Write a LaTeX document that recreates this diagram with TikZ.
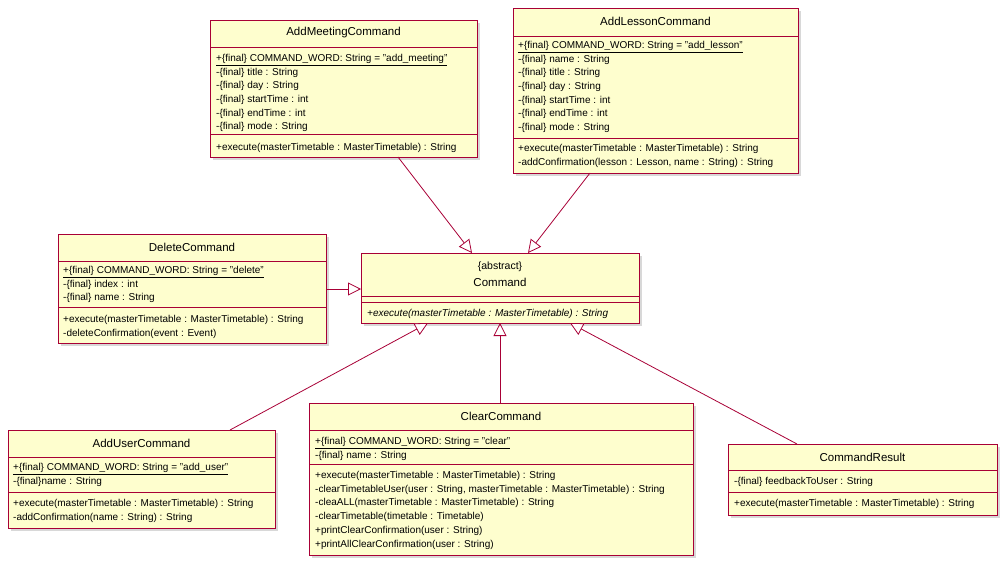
\documentclass[tikz,border=0pt]{standalone}
\usepackage{fontspec}
\setmainfont{Liberation Sans}
\usetikzlibrary{shadows,arrows.meta}
\definecolor{fillc}{HTML}{FEFECE}
\definecolor{linec}{HTML}{A80036}
\tikzset{
 box/.style={draw=linec,fill=fillc,line width=0.9pt,drop shadow={shadow xshift=3pt,shadow yshift=-3pt,fill=black!30,draw=none}},
 sep/.style={draw=linec,line width=0.9pt},
 title/.style={font=\fontsize{11.5}{13}\selectfont,inner sep=0},
 mem/.style={font=\fontsize{10}{11}\selectfont,anchor=base west,inner sep=0},
 gen/.style={draw=linec,line width=0.8pt,-{Triangle[open,length=13pt,width=13pt,fill=white]}}
}
\newcommand{\mlist}[4]{% prefix, x, first center y, items
 \foreach \t [count=\i] in {#4}{\node[mem] (#1-\i) at (#2,{#3+3.5+(\i-1)*13.7}) {\t};}}
\newcommand{\fs}{\{final\}}
\begin{document}
\begin{tikzpicture}[x=1pt,y=-1pt]
\useasboundingbox (0,0) rectangle (1007,567);
% AddMeeting
\node[box,minimum width=267pt,minimum height=137pt,anchor=north west,inner sep=0] (am) at (210,20) {};
\node[title] (amt) at (343.5,33) {AddMeetingCommand};
\draw[sep] (210,47) -- (477,47); \draw[sep] (210,134) -- (477,134);
\mlist{am}{216}{58}{{\underline{+\fs{} COMMAND\_WORD: String = "add\_meeting"}},{-\fs{} title : String},{-\fs{} day : String},{-\fs{} startTime : int},{-\fs{} endTime : int},{-\fs{} mode : String}}
\mlist{amm}{216}{147}{{+execute(masterTimetable : MasterTimetable) : String}}
% AddLesson
\node[box,minimum width=285pt,minimum height=165pt,anchor=north west,inner sep=0] (al) at (513,8) {};
\node[title] (alt) at (655.5,21) {AddLessonCommand};
\draw[sep] (513,36) -- (798,36); \draw[sep] (513,138) -- (798,138);
\mlist{al}{518}{45}{{\underline{+\fs{} COMMAND\_WORD: String = "add\_lesson"}},{-\fs{} name : String},{-\fs{} title : String},{-\fs{} day : String},{-\fs{} startTime : int},{-\fs{} endTime : int},{-\fs{} mode : String}}
\mlist{alm}{518}{148}{{+execute(masterTimetable : MasterTimetable) : String},{-addConfirmation(lesson : Lesson, name : String) : String}}
% Delete
\node[box,minimum width=268pt,minimum height=109pt,anchor=north west,inner sep=0] (dc) at (58,234) {};
\node[title] (dct) at (192,247) {DeleteCommand};
\draw[sep] (58,261) -- (326,261); \draw[sep] (58,307) -- (326,307);
\mlist{dc}{63}{270}{{\underline{+\fs{} COMMAND\_WORD: String = "delete"}},{-\fs{} index : int},{-\fs{} name : String}}
\mlist{dcm}{63}{319}{{+execute(masterTimetable : MasterTimetable) : String},{-deleteConfirmation(event : Event)}}
% Command
\node[box,minimum width=278pt,minimum height=70pt,anchor=north west,inner sep=0] (cm) at (361,253) {};
\node[title,font=\fontsize{10.5}{12}\selectfont] (cma) at (500,267) {\{abstract\}};
\node[title] (cmt) at (500,282) {Command};
\draw[sep] (361,296) -- (639,296); \draw[sep] (361,302) -- (639,302);
\mlist{cmm}{367}{313}{{\textit{+execute(masterTimetable : MasterTimetable) : String}}}
% AddUser
\node[box,minimum width=267pt,minimum height=98pt,anchor=north west,inner sep=0] (au) at (8,430) {};
\node[title] (aut) at (141.5,443) {AddUserCommand};
\draw[sep] (8,457) -- (275,457); \draw[sep] (8,492) -- (275,492);
\mlist{au}{13}{467}{{\underline{+\fs{} COMMAND\_WORD: String = "add\_user"}},{-\fs{}name : String}}
\mlist{aum}{13}{503}{{+execute(masterTimetable : MasterTimetable) : String},{-addConfirmation(name : String) : String}}
% Clear
\node[box,minimum width=384pt,minimum height=152pt,anchor=north west,inner sep=0] (cc) at (309,403) {};
\node[title] (cct) at (501,416) {ClearCommand};
\draw[sep] (309,430) -- (693,430); \draw[sep] (309,464) -- (693,464);
\mlist{cc}{315}{441}{{\underline{+\fs{} COMMAND\_WORD: String = "clear"}},{-\fs{} name : String}}
\mlist{ccm}{315}{475}{{+execute(masterTimetable : MasterTimetable) : String},{-clearTimetableUser(user : String, masterTimetable : MasterTimetable) : String},{-cleaALL(masterTimetable : MasterTimetable) : String},{-clearTimetable(timetable : Timetable)},{+printClearConfirmation(user : String)},{+printAllClearConfirmation(user : String)}}
% CommandResult
\node[box,minimum width=269pt,minimum height=71pt,anchor=north west,inner sep=0] (cr) at (728,444) {};
\node[title] (crt) at (862.5,457) {CommandResult};
\draw[sep] (728,470) -- (997,470); \draw[sep] (728,492) -- (997,492);
\mlist{cr}{734}{481}{{-\fs{} feedbackToUser : String}}
\mlist{crm}{734}{503}{{+execute(masterTimetable : MasterTimetable) : String}}
% edges
\coordinate (a1) at (398,157); \coordinate (b1) at (472,253);
\coordinate (a2) at (590,173); \coordinate (b2) at (528,253);
\coordinate (a3) at (326,289); \coordinate (b3) at (361,289);
\coordinate (a4) at (230,430); \coordinate (b4) at (428,323);
\coordinate (a5) at (500,403); \coordinate (b5) at (500,323);
\coordinate (a6) at (797,444); \coordinate (b6) at (570,323);
\foreach \k in {1,...,6}{\draw[gen] (a\k) -- (b\k);}
\end{tikzpicture}
\end{document}
